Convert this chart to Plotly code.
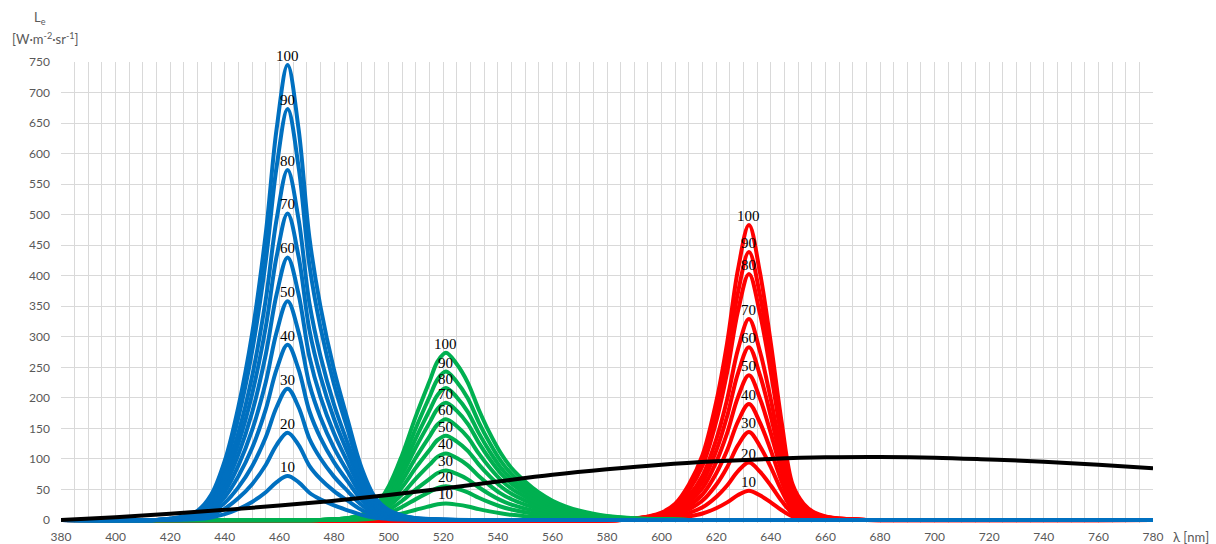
import plotly.graph_objects as go

# Drive levels (%) shown above each peak
levels = [10, 20, 30, 40, 50, 60, 70, 80, 90, 100]

# Blue channel: wavelength samples [nm] and radiance per drive level
blue_nm = [380, 415, 420, 425, 430, 435, 440, 445, 450, 455, 459, 463, 467, 471, 475,
           480, 485, 490, 495, 500, 505, 510, 515, 520, 530, 780]
blue_values = [
    [0, 0, 0.2, 0.6, 1.4, 4, 9.4, 18, 29.5, 45.4, 62, 72, 62, 44.6, 33.8, 23.8, 15.8, 8.4, 3.6, 1.6, 0.7, 0.3, 0.1, 0, 0, 0],
    [0, 0, 0.4, 1.1, 2.9, 7.9, 18.6, 35.8, 58.6, 90, 123, 143, 123, 88.7, 67.2, 47.2, 31.5, 16.6, 7.2, 3.1, 1.4, 0.6, 0.3, 0.1, 0, 0],
    [0, 0, 0.6, 1.7, 4.3, 11.8, 28, 53.8, 88, 135.5, 185, 215, 185, 133, 101, 71, 47.3, 24.9, 10.8, 4.7, 2.2, 0.9, 0.4, 0.1, 0, 0],
    [0, 0, 0.9, 2.3, 5.7, 15.8, 37.3, 71.8, 117.7, 181, 247, 287, 247, 178, 134.9, 94.7, 63.1, 33.3, 14.4, 6.3, 2.9, 1.1, 0.6, 0.1, 0, 0],
    [0, 0, 1.1, 2.9, 7.2, 19.7, 46.5, 89.5, 147, 225.5, 308, 358, 308, 222, 168.3, 118.1, 78.8, 41.5, 17.9, 7.9, 3.6, 1.4, 0.7, 0.2, 0, 0],
    [0, 0, 1.3, 3.4, 8.6, 23.7, 56, 107.5, 176, 271, 370, 430, 370, 267, 202.1, 141.9, 94.6, 49.9, 21.5, 9.5, 4.3, 1.7, 0.9, 0.2, 0, 0],
    [0, 0, 1.5, 4, 10, 27.6, 65, 125.5, 206, 316, 432, 502, 432, 311, 235.9, 165.7, 110.4, 58.2, 25.1, 11, 5, 2, 1, 0.3, 0, 0],
    [0, 0, 1.7, 4.6, 11.5, 31.5, 74.5, 143, 235, 361, 493, 573, 493, 355, 269.3, 189.1, 126.1, 66.5, 28.7, 12.6, 5.7, 2.3, 1.1, 0.3, 0, 0],
    [0, 0, 2, 5.4, 13.5, 37, 87.5, 168, 276, 424, 579, 673, 579, 417, 316.3, 222.1, 148.1, 78.1, 33.7, 14.8, 6.7, 2.7, 1.3, 0.3, 0, 0],
    [0, 0, 2.2, 6, 15, 41, 97, 186, 305, 469, 641, 745, 641, 462, 350.2, 245.9, 163.9, 86.4, 37.3, 16.4, 7.5, 3, 1.5, 0.4, 0, 0],
]

# Green channel
green_nm = [380, 475, 480, 485, 490, 495, 500, 505, 510, 515, 518, 521, 525, 529, 533, 537,
            541, 545, 550, 555, 560, 565, 570, 575, 580, 590, 600, 610, 780]
green_values = [
    [0, 0, 0.1, 0.3, 0.8, 2.2, 5.4, 10.5, 16.7, 22.4, 25.7, 27, 25.1, 22.1, 17.8, 14, 10.8, 8.4, 6.2, 4.5, 3.1, 2.2, 1.5, 1, 0.6, 0.3, 0.1, 0, 0],
    [0, 0, 0.2, 0.7, 1.7, 4.4, 11, 21.5, 34.1, 45.7, 52.3, 55, 51.2, 45.1, 36.3, 28.6, 22, 17.1, 12.7, 9.1, 6.3, 4.4, 3, 2, 1.3, 0.6, 0.2, 0, 0],
    [0, 0, 0.3, 1, 2.4, 6.5, 16.2, 31.6, 50.2, 67.2, 77, 81, 75.3, 66.4, 53.5, 42.1, 32.4, 25.1, 18.6, 13.4, 9.3, 6.5, 4.5, 3, 1.9, 0.8, 0.3, 0, 0],
    [0, 0, 0.4, 1.3, 3.3, 8.7, 21.8, 42.5, 67.6, 90.5, 103.6, 109, 101.4, 89.4, 71.9, 56.7, 43.6, 33.8, 25.1, 18, 12.5, 8.7, 6, 4, 2.6, 1.1, 0.4, 0, 0],
    [0, 0, 0.6, 1.7, 4.1, 11, 27.6, 53.8, 85.6, 114.5, 131.1, 138, 128.3, 113.2, 91.1, 71.8, 55.2, 42.8, 31.7, 22.8, 15.9, 11, 7.6, 5.1, 3.3, 1.4, 0.6, 0, 0],
    [0, 0, 0.7, 2, 5, 13.2, 33, 64.4, 102.3, 137, 156.8, 165, 153.5, 135.3, 108.9, 85.8, 66, 51.2, 38, 27.2, 19, 13.2, 9.1, 6.1, 4, 1.7, 0.7, 0, 0],
    [0, 0, 0.8, 2.3, 5.8, 15.4, 38.4, 74.9, 119, 159.4, 182.4, 192, 178.6, 157.4, 126.7, 99.8, 76.8, 59.5, 44.2, 31.7, 22.1, 15.4, 10.6, 7.1, 4.6, 1.9, 0.8, 0, 0],
    [0, 0, 0.9, 2.6, 6.5, 17.3, 43.2, 84.2, 133.9, 179.3, 205.2, 216, 200.9, 177.1, 142.6, 112.3, 86.4, 67, 49.7, 35.6, 24.8, 17.3, 11.9, 8, 5.2, 2.2, 0.9, 0, 0],
    [0, 0, 1, 2.9, 7.3, 19.4, 48.6, 94.8, 150.7, 201.7, 230.9, 243, 226, 199.3, 160.4, 126.4, 97.2, 75.3, 55.9, 40.1, 27.9, 19.4, 13.4, 9, 5.8, 2.4, 1, 0, 0],
    [0, 0, 1.1, 3.3, 8.2, 22, 55, 107, 170, 227, 260, 274, 255, 225, 181, 142.5, 110, 85, 63, 45, 31.5, 22, 15, 10, 6.6, 2.7, 1.1, 0, 0],
]

# Red channel
red_nm = [380, 585, 590, 595, 600, 605, 610, 615, 620, 624, 628, 632, 636, 640, 644,
          648, 652, 656, 660, 665, 670, 675, 780]
red_values = [
    [0, 0, 0.2, 0.6, 1.2, 2.6, 5.8, 10.6, 19.2, 28.8, 40.8, 48, 40.3, 28.8, 15.8, 5.8, 2.6, 1.2, 0.6, 0.2, 0.1, 0, 0],
    [0, 0, 0.5, 1.1, 2.4, 5.2, 11.3, 20.7, 37.6, 56.4, 79.9, 94, 79, 56.4, 31, 11.3, 5.2, 2.4, 1.1, 0.5, 0.2, 0, 0],
    [0, 0, 0.7, 1.7, 3.6, 7.9, 17.3, 31.7, 57.6, 86.4, 122.4, 144, 121, 86.4, 47.5, 17.3, 7.9, 3.6, 1.7, 0.7, 0.3, 0, 0],
    [0, 0, 1, 2.3, 4.8, 10.5, 22.8, 41.8, 76, 114, 161.5, 190, 159.6, 114, 62.7, 22.8, 10.5, 4.8, 2.3, 1, 0.4, 0, 0],
    [0, 0, 1.2, 2.8, 5.9, 13, 28.4, 52.1, 94.8, 142.2, 201.5, 237, 199.1, 142.2, 78.2, 28.4, 13, 5.9, 2.8, 1.2, 0.5, 0, 0],
    [0, 0, 1.4, 3.4, 7.1, 15.6, 34, 62.3, 113.2, 169.8, 240.6, 283, 237.7, 169.8, 93.4, 34, 15.6, 7.1, 3.4, 1.4, 0.6, 0, 0],
    [0, 0, 1.6, 3.9, 8.2, 18.1, 39.5, 72.4, 131.6, 197.4, 279.7, 329, 276.4, 197.4, 108.6, 39.5, 18.1, 8.2, 3.9, 1.6, 0.7, 0, 0],
    [0, 0, 2, 4.8, 10.1, 22.2, 48.4, 88.7, 161.2, 241.8, 342.6, 403, 338.5, 241.8, 133, 48.4, 22.2, 10.1, 4.8, 2, 0.8, 0, 0],
    [0, 0, 2.2, 5.3, 11, 24.1, 52.7, 96.6, 175.6, 263.4, 373.2, 439, 368.8, 263.4, 144.9, 52.7, 24.1, 11, 5.3, 2.2, 0.9, 0, 0],
    [0, 0, 2.4, 5.8, 12.1, 26.6, 58, 106.3, 193.2, 289.8, 410.6, 483, 405.7, 289.8, 159.4, 58, 26.6, 12.1, 5.8, 2.4, 1, 0, 0],
]

# Reference (black) spectrum
black_nm = [380, 400, 420, 440, 460, 480, 500, 520, 540, 560, 580, 600, 620, 640,
            660, 680, 700, 720, 740, 760, 780]
black_values = [0, 4.5, 10, 16.5, 23.5, 31.5, 41, 51.5, 63, 74, 83, 90.5, 96, 100,
                102.5, 103, 102, 99, 95.5, 90.5, 84.5]

x_ticks = list(range(380, 781, 20))
y_ticks = list(range(0, 751, 50))

BLUE, GREEN, RED = "#0070C0", "#00B050", "#FF0000"
LABEL_FONT = dict(family="Liberation Serif, Times New Roman, serif", size=15, color="#000000")
AXIS_FONT = dict(family="Lato, Carlito, Calibri, sans-serif", size=12, color="#595959")
TITLE_FONT = dict(family="Lato, Carlito, Calibri, sans-serif", size=13, color="#595959")

W, H = 1216, 544
ML, MR, MT, MB = 61, 63, 62, 21

fig = go.Figure()
annotations = []

# Draw order: red, green, blue, then the black curve on top
for nm, rows, color in [(red_nm, red_values, RED), (green_nm, green_values, GREEN),
                        (blue_nm, blue_values, BLUE)]:
    for lvl, row in zip(levels, rows):
        fig.add_trace(go.Scatter(
            x=nm, y=row, mode="lines",
            line=dict(color=color, width=4, shape="spline", smoothing=1),
            hoverinfo="x+y", showlegend=False, cliponaxis=False,
        ))
        peak = max(row)
        i = row.index(peak)
        annotations.append(dict(
            x=nm[i], y=peak, xref="x", yref="y", text=str(lvl),
            showarrow=False, yanchor="bottom", xanchor="center",
            yshift=-1, font=LABEL_FONT,
        ))

fig.add_trace(go.Scatter(
    x=black_nm, y=black_values, mode="lines",
    line=dict(color="#000000", width=4, shape="spline", smoothing=1),
    showlegend=False, cliponaxis=False,
))


def px_to_paper(x, y):
    return (x - ML) / (W - ML - MR), 1 - (y - MT) / (H - MT - MB)


# Axis titles, placed by pixel position
for text, x, y in [("L<sub>e</sub>", 40, 18),
                   ("[W·m<sup>-2</sup>·sr<sup>-1</sup>]", 45, 38),
                   ("λ [nm]", 1191, 537)]:
    px, py = px_to_paper(x, y)
    annotations.append(dict(text=text, x=px, y=py, xref="paper", yref="paper",
                            showarrow=False, xanchor="center", yanchor="middle",
                            font=TITLE_FONT))

GRID = "#D9D9D9"
fig.update_layout(
    width=W, height=H,
    margin=dict(l=ML, r=MR, t=MT, b=MB, pad=0, autoexpand=False),
    paper_bgcolor="white", plot_bgcolor="white",
    annotations=annotations,
    xaxis=dict(
        range=[380, 780], tickvals=x_ticks, showgrid=True, gridcolor=GRID, gridwidth=1,
        minor=dict(dtick=5, tick0=380, showgrid=True, gridcolor=GRID, gridwidth=1),
        zeroline=False, showline=False, ticks="", tickfont=AXIS_FONT,
        ticklabelstandoff=5, automargin=False,
    ),
    yaxis=dict(
        range=[-5, 750], tickvals=y_ticks, showgrid=True, gridcolor=GRID, gridwidth=1,
        zeroline=False, showline=False, ticks="", tickfont=AXIS_FONT,
        ticklabelstandoff=10, automargin=False,
    ),
    showlegend=False,
)

fig.write_html("out.html")
